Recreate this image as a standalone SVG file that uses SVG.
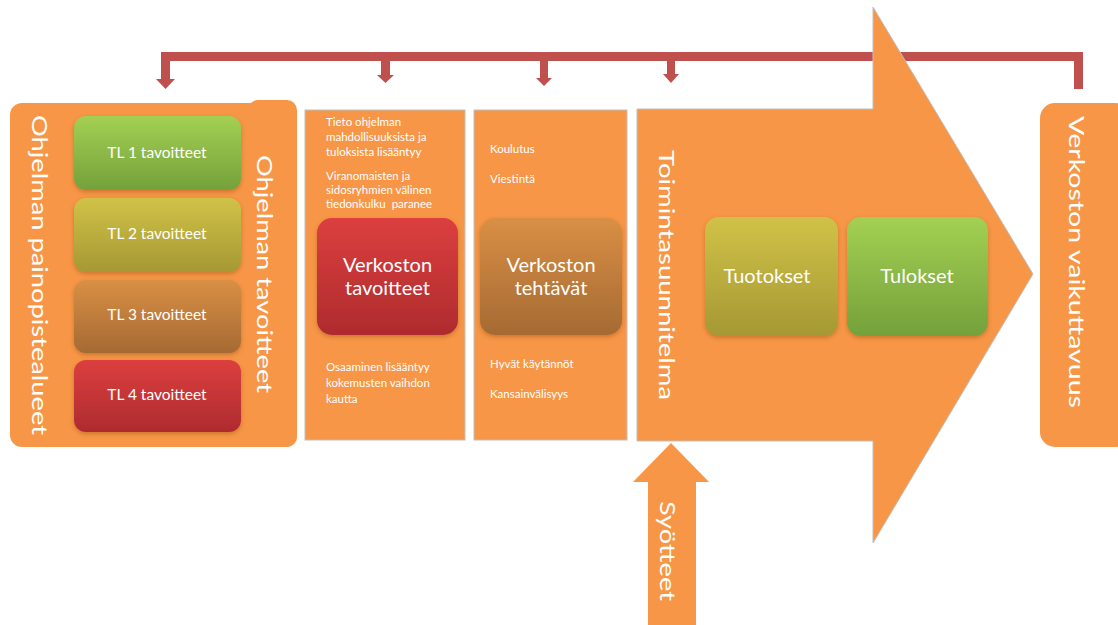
<svg xmlns="http://www.w3.org/2000/svg" width="1118" height="625" viewBox="0 0 1118 625">
<defs>
<style>
.org{fill:#F79646;}
.panel{fill:#F79646;stroke:#BFBFBF;stroke-width:1;}
.red{fill:#C0504D;}
.big{font-family:Lato,"Open Sans","Liberation Sans",sans-serif;font-size:22px;fill:#FFFFFF;}
.mid{font-family:Lato,"Open Sans","Liberation Sans",sans-serif;font-size:20px;fill:#FFFFFF;text-anchor:middle;}
.tl{font-family:Lato,"Open Sans","Liberation Sans",sans-serif;font-size:15.5px;fill:#FFFFFF;text-anchor:middle;}
.box{font-family:Lato,"Open Sans","Liberation Sans",sans-serif;font-size:20px;fill:#FFFFFF;text-anchor:middle;}
.sm{font-family:Lato,"Open Sans","Liberation Sans",sans-serif;font-size:11.5px;fill:#FFFFFF;}
</style>
<linearGradient id="gGreen" x1="0" y1="0" x2="0" y2="1"><stop offset="0" stop-color="#A3D053"/><stop offset="1" stop-color="#74A13A"/></linearGradient>
<linearGradient id="gYellow" x1="0" y1="0" x2="0" y2="1"><stop offset="0" stop-color="#D0C247"/><stop offset="1" stop-color="#A69834"/></linearGradient>
<linearGradient id="gBrown" x1="0" y1="0" x2="0" y2="1"><stop offset="0" stop-color="#D98F45"/><stop offset="1" stop-color="#A56A33"/></linearGradient>
<linearGradient id="gRed" x1="0" y1="0" x2="0" y2="1"><stop offset="0" stop-color="#DC3F3F"/><stop offset="1" stop-color="#AE2B2E"/></linearGradient>
<filter id="sh" x="-10%" y="-10%" width="120%" height="125%"><feDropShadow dx="0" dy="2" stdDeviation="2" flood-color="#7A3A10" flood-opacity="0.35"/></filter>
</defs>

<!-- connectors: red feedback bracket -->
<g id="connectors">
<rect class="red" x="161" y="52" width="922" height="9"/>
<rect class="red" x="1074" y="52" width="9" height="37"/>
<rect class="red" x="161" y="52" width="9" height="27"/>
<polygon class="red" points="156,79 175,79 165.5,89"/>
<rect class="red" x="381" y="58" width="9" height="17"/>
<polygon class="red" points="377,75 394,75 385.5,83"/>
<rect class="red" x="540" y="58" width="8" height="20"/>
<polygon class="red" points="536,78 552,78 544,86"/>
<rect class="red" x="667" y="58" width="8" height="16"/>
<polygon class="red" points="663,74 679,74 671,83"/>
</g>

<!-- left group: programme focus areas and goals -->
<g id="ohjelma">
<rect class="org" x="248" y="100" width="49" height="347" rx="10"/>
<rect class="org" x="10" y="103" width="287" height="344" rx="12"/>
<text class="big" transform="translate(40,275) rotate(90)" text-anchor="middle" dominant-baseline="central" textLength="320" lengthAdjust="spacingAndGlyphs">Ohjelman painopistealueet</text>
<text class="big" transform="translate(265,274) rotate(90)" text-anchor="middle" dominant-baseline="central" textLength="238" lengthAdjust="spacingAndGlyphs">Ohjelman tavoitteet</text>
</g>
<g id="tl1"><rect x="74" y="116" width="167" height="74" rx="12" fill="url(#gGreen)" filter="url(#sh)"/><text class="tl" x="157" y="158">TL 1 tavoitteet</text></g>
<g id="tl2"><rect x="74" y="198" width="167" height="74" rx="12" fill="url(#gYellow)" filter="url(#sh)"/><text class="tl" x="157" y="239">TL 2 tavoitteet</text></g>
<g id="tl3"><rect x="74" y="280" width="167" height="73" rx="12" fill="url(#gBrown)" filter="url(#sh)"/><text class="tl" x="157" y="320">TL 3 tavoitteet</text></g>
<g id="tl4"><rect x="74" y="360" width="167" height="72" rx="12" fill="url(#gRed)" filter="url(#sh)"/><text class="tl" x="157" y="400">TL 4 tavoitteet</text></g>

<!-- network goals panel -->
<g id="verkoston-tavoitteet-panel">
<rect class="panel" x="305" y="110" width="160" height="330"/>
<text class="sm" x="326" y="126">Tieto ohjelman</text>
<text class="sm" x="326" y="141">mahdollisuuksista ja</text>
<text class="sm" x="326" y="156">tuloksista lisääntyy</text>
<text class="sm" x="326" y="180">Viranomaisten ja</text>
<text class="sm" x="326" y="194">sidosryhmien välinen</text>
<text class="sm" x="326" y="208" xml:space="preserve">tiedonkulku  paranee</text>
<text class="sm" x="326" y="371">Osaaminen lisääntyy</text>
<text class="sm" x="326" y="387">kokemusten vaihdon</text>
<text class="sm" x="326" y="403">kautta</text>
</g>
<g id="verkoston-tavoitteet">
<rect x="317" y="218" width="141" height="117" rx="15" fill="url(#gRed)" filter="url(#sh)"/>
<text class="mid" x="387.5" y="272">Verkoston</text>
<text class="mid" x="387.5" y="295">tavoitteet</text>
</g>

<!-- network tasks panel -->
<g id="verkoston-tehtavat-panel">
<rect class="panel" x="474" y="110" width="153" height="330"/>
<text class="sm" x="490" y="153">Koulutus</text>
<text class="sm" x="490" y="183">Viestintä</text>
<text class="sm" x="490" y="368">Hyvät käytännöt</text>
<text class="sm" x="490" y="398">Kansainvälisyys</text>
</g>
<g id="verkoston-tehtavat">
<rect x="480" y="218" width="142" height="117" rx="15" fill="url(#gBrown)" filter="url(#sh)"/>
<text class="mid" x="551" y="272">Verkoston</text>
<text class="mid" x="551" y="295">tehtävät</text>
</g>

<!-- big arrow: action plan -->
<g id="toimintasuunnitelma">
<polygon class="panel" points="637,109 873,109 873,7 1033,274 873,543 873,441 637,441"/>
<text class="big" transform="translate(667,275) rotate(90)" text-anchor="middle" dominant-baseline="central" textLength="250" lengthAdjust="spacingAndGlyphs">Toimintasuunnitelma</text>
</g>
<g id="tuotokset">
<rect x="705" y="217" width="133" height="119" rx="14" fill="url(#gYellow)" filter="url(#sh)"/>
<text class="box" x="767" y="283">Tuotokset</text>
</g>
<g id="tulokset">
<rect x="847" y="217" width="141" height="119" rx="14" fill="url(#gGreen)" filter="url(#sh)"/>
<text class="box" x="917" y="283">Tulokset</text>
</g>

<!-- inputs arrow -->
<g id="syotteet">
<polygon class="org" points="671,443 709,482 696,482 696,625 648,625 648,482 633,482"/>
<text class="big" transform="translate(668,551) rotate(90)" text-anchor="middle" dominant-baseline="central" textLength="100" lengthAdjust="spacingAndGlyphs">Syötteet</text>
</g>

<!-- impact box -->
<g id="vaikuttavuus">
<rect class="org" x="1040" y="103" width="90" height="344" rx="15"/>
<text class="big" transform="translate(1077,262) rotate(90)" text-anchor="middle" dominant-baseline="central" textLength="292" lengthAdjust="spacingAndGlyphs">Verkoston vaikuttavuus</text>
</g>
</svg>
